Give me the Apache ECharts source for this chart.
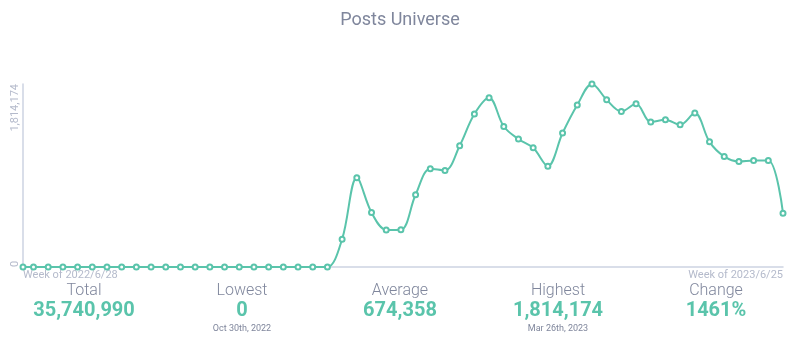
<!DOCTYPE html>
<html>
<head>
<meta charset="utf-8">
<script src="https://cdn.jsdelivr.net/npm/echarts@6/dist/echarts.min.js"></script>
<style>
html,body{margin:0;padding:0;background:#fff;}
#c{width:800px;height:343px;}
</style>
</head>
<body>
<div id="c"></div>
<script>
// Week start dates (first one is a partial week)
const dates = ['2022-06-28'];
(function(){ let t = Date.UTC(2022,6,3); for (let i = 0; i < 52; i++) { const d = new Date(t + i*7*86400000); dates.push(d.toISOString().slice(0,10)); } })();

const posts = [
  0,0,0,0,0,0,0,0,0,0,
  0,0,0,0,0,0,0,0,0,0,
  0,0,
  276000,884000,540000,368000,370000,716000,974000,957000,
  1202000,1516000,1678000,1393000,1268000,1182000,1000000,1328000,1606000,1814174,
  1658000,1542000,1618000,1437000,1460000,1410000,1526000,1241000,1096000,1046000,
  1056000,1056000,534000
];

const yTicks = [0, 1814174];
const xTickLabels = ['Week of 2022/6/28', 'Week of 2023/6/25'];

const statLabels = ['Total', 'Lowest', 'Average', 'Highest', 'Change'];
const statValues = ['35,740,990', '0', '674,358', '1,814,174', '1461%'];
const statSubs   = ['', 'Oct 30th, 2022', '', 'Mar 26th, 2023', ''];

const t0 = Date.parse(dates[0]);
const dayOffsets = dates.map(d => (Date.parse(d) - t0) / 86400000);
const span = dayOffsets[dayOffsets.length - 1];
const seriesData = posts.map((v, i) => [dayOffsets[i], v]);

const teal = '#5ac4ab';
const gray = '#7f869c';
const light = '#b4bacb';
const axisCol = '#cdd3e2';
const font = 'Roboto, "Noto Sans", sans-serif';

const colX = [84, 242, 400, 558, 716];
const gfx = [];
statLabels.forEach((lab, i) => {
  gfx.push({type:'text', x: colX[i], y: 283, style:{text: lab, fill: gray, font: '300 16px ' + font, align:'center', verticalAlign:'top'}});
  gfx.push({type:'text', x: colX[i], y: 301, style:{text: statValues[i], fill: teal, font: 'bold 20px ' + font, align:'center', verticalAlign:'top'}});
  if (statSubs[i]) gfx.push({type:'text', x: colX[i], y: 324, style:{text: statSubs[i], fill: gray, font: '9px ' + font, align:'center', verticalAlign:'top'}});
});

const chart = echarts.init(document.getElementById('c'), null, {renderer:'canvas'});
chart.setOption({
  animation: false,
  title: {text: 'Posts Universe', left: 'center', top: 6, textStyle:{color: gray, fontSize: 18, fontWeight: 'normal', fontFamily: font}},
  grid: {left: 23, right: 17, top: 84, bottom: 76, containLabel: false},
  xAxis: {
    type: 'value', min: 0, max: span, interval: span,
    axisLine: {show: true, lineStyle: {color: axisCol, width: 1.5}},
    axisTick: {show: false}, splitLine: {show: false},
    axisLabel: {
      color: light, fontSize: 11, fontFamily: font, margin: 3,
      alignMinLabel: 'left', alignMaxLabel: 'right',
      formatter: v => v === 0 ? xTickLabels[0] : xTickLabels[1]
    }
  },
  yAxis: {
    type: 'value', min: yTicks[0], max: yTicks[1], interval: yTicks[1] - yTicks[0],
    axisLine: {show: true, lineStyle: {color: axisCol, width: 1.5}},
    axisTick: {show: false}, splitLine: {show: false},
    axisLabel: {
      color: light, fontSize: 11, fontFamily: font, rotate: 90, margin: 2,
      alignMinLabel: 'left', alignMaxLabel: 'right',
      formatter: v => v.toLocaleString('en-US')
    }
  },
  series: [{
    type: 'line', data: seriesData, smooth: 0.35,
    symbol: 'emptyCircle', symbolSize: 5, showAllSymbol: true,
    lineStyle: {color: teal, width: 2},
    itemStyle: {color: teal, borderWidth: 1.3}
  }],
  graphic: gfx
});
</script>
</body>
</html>
